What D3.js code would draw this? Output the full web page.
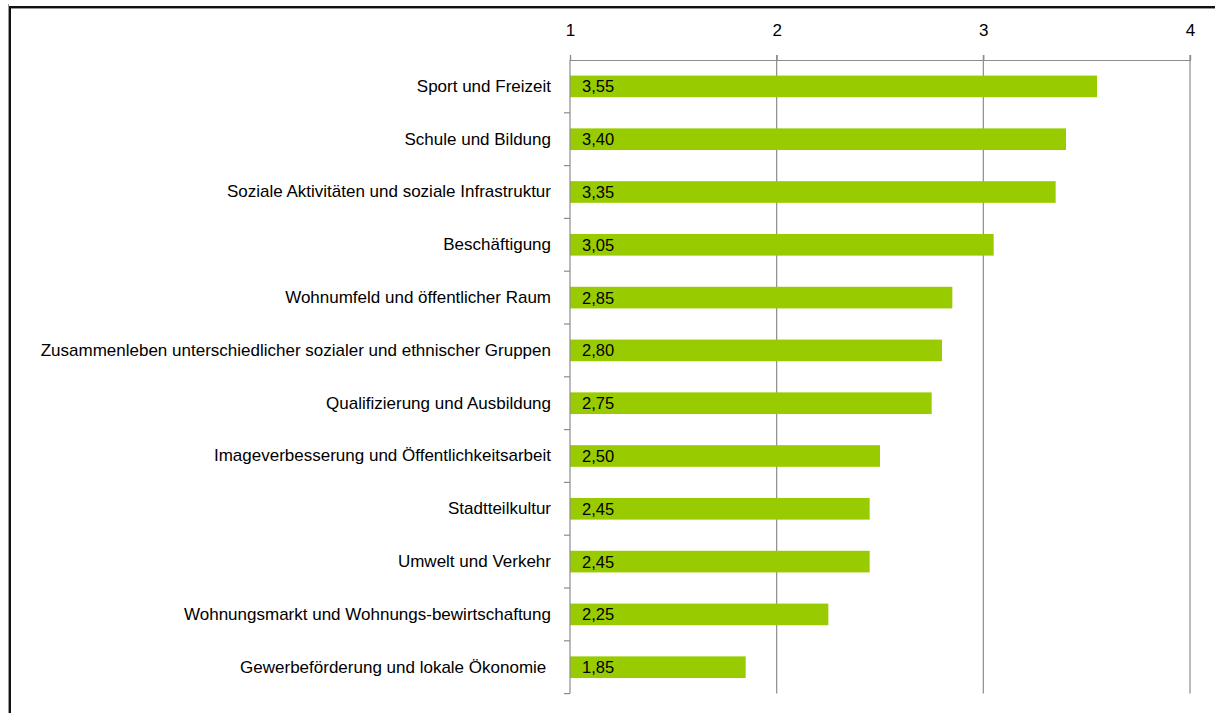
<!DOCTYPE html>
<html>
<head>
<meta charset="utf-8">
<script src="https://cdn.jsdelivr.net/npm/d3@7"></script>
<style>
  html, body { margin: 0; padding: 0; background: #fff; }
  svg { display: block; }
  text { font-family: "Liberation Sans", Arial, sans-serif; }
</style>
</head>
<body>
<svg id="chart" width="1215" height="713"></svg>
<script>
// Handlungsfelder, sorted by mean rating
const categories = [
  "Sport und Freizeit",
  "Schule und Bildung",
  "Soziale Aktivitäten und soziale Infrastruktur",
  "Beschäftigung",
  "Wohnumfeld und öffentlicher Raum",
  "Zusammenleben unterschiedlicher sozialer und ethnischer Gruppen",
  "Qualifizierung und Ausbildung",
  "Imageverbesserung und Öffentlichkeitsarbeit",
  "Stadtteilkultur",
  "Umwelt und Verkehr",
  "Wohnungsmarkt und Wohnungs-bewirtschaftung",
  "Gewerbeförderung und lokale Ökonomie "
];
const values = [3.55, 3.40, 3.35, 3.05, 2.85, 2.80, 2.75, 2.50, 2.45, 2.45, 2.25, 1.85];
const tickValues = [1, 2, 3, 4];

const svg = d3.select("#chart");

// outer frame of the chart object
svg.append("line").attr("x1", 8).attr("x2", 1215).attr("y1", 7).attr("y2", 7)
  .attr("stroke", "#111").attr("stroke-width", 2);
svg.append("line").attr("x1", 10).attr("x2", 1215).attr("y1", 8.5).attr("y2", 8.5)
  .attr("stroke", "#999").attr("stroke-width", 1);
svg.append("line").attr("x1", 8.5).attr("x2", 8.5).attr("y1", 4).attr("y2", 713)
  .attr("stroke", "#999").attr("stroke-width", 1);
svg.append("line").attr("x1", 10).attr("x2", 10).attr("y1", 7).attr("y2", 713)
  .attr("stroke", "#111").attr("stroke-width", 2);

const plotLeft = 570, plotRight = 1190, plotTop = 60, plotBottom = 693.6;

const x = d3.scaleLinear().domain([1, 4]).range([plotLeft, plotRight]);
const y = d3.scaleBand().domain(categories).range([plotTop, plotBottom]).paddingInner(0.59).paddingOuter(0.295);
const yBand = d3.scaleBand().domain(categories).range([plotTop, plotBottom]);

// vertical gridlines
svg.append("g").selectAll("line").data(tickValues.slice(1)).join("line")
  .attr("x1", d => x(d)).attr("x2", d => x(d))
  .attr("y1", plotTop - 5).attr("y2", plotBottom)
  .attr("stroke", "#8c8c8c").attr("stroke-width", 1.2);

// top value axis
const xAxis = svg.append("g").attr("transform", `translate(0,${plotTop})`)
  .call(d3.axisTop(x).tickValues(tickValues).tickFormat(d3.format("d")).tickSize(5).tickPadding(19));
xAxis.select(".domain").attr("stroke", "#8c8c8c").attr("stroke-width", 1.2);
xAxis.selectAll(".tick line").attr("stroke", "#8c8c8c").attr("stroke-width", 1.2);
xAxis.selectAll(".tick text").attr("font-size", 17).attr("fill", "#000")
  .attr("font-family", "Liberation Sans, Arial, sans-serif");

// bars
svg.append("g").selectAll("rect").data(values).join("rect")
  .attr("x", x(1))
  .attr("y", (d, i) => y(categories[i]))
  .attr("width", d => x(d) - x(1))
  .attr("height", y.bandwidth())
  .attr("fill", "#99cc00");

// value labels inside bars
svg.append("g").selectAll("text").data(values).join("text")
  .attr("x", x(1) + 12)
  .attr("y", (d, i) => y(categories[i]) + y.bandwidth() / 2)
  .attr("dy", "0.36em")
  .attr("font-size", 16.5)
  .attr("fill", "#000")
  .text(d => d.toFixed(2).replace(".", ","));

// category axis on the left
const yAxis = svg.append("g").attr("transform", `translate(${plotLeft},0)`)
  .call(d3.axisLeft(yBand).tickSize(0).tickPadding(19));
yAxis.select(".domain").attr("stroke", "#8c8c8c").attr("stroke-width", 1.2).attr("d", `M0,${plotTop}V${plotBottom}`);
yAxis.selectAll(".tick text").attr("font-size", 17).attr("fill", "#000")
  .style("white-space", "pre")
  .attr("font-family", "Liberation Sans, Arial, sans-serif");

// category separator ticks
svg.append("g").selectAll("line").data(d3.range(1, categories.length + 1)).join("line")
  .attr("x1", plotLeft - 6).attr("x2", plotLeft)
  .attr("y1", i => plotTop + i * yBand.step()).attr("y2", i => plotTop + i * yBand.step())
  .attr("stroke", "#8c8c8c").attr("stroke-width", 1.2);
</script>
</body>
</html>
